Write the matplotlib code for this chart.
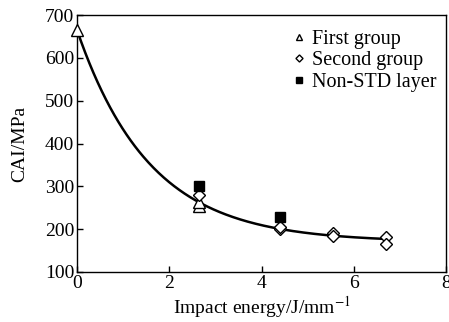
import numpy as np
import matplotlib
matplotlib.use("Agg")
import matplotlib.pyplot as plt

plt.rcParams['font.family'] = ['Liberation Serif', 'DejaVu Serif']
plt.rcParams['mathtext.fontset'] = 'stix'

# Measured CAI values
first_x = [0.0, 2.65, 2.65]
first_y = [665, 254, 263]

second_x = [2.65, 4.4, 4.4, 5.55, 5.55, 6.7, 6.7]
second_y = [280, 200, 205, 190, 184, 182, 165]

nonstd_x = [2.65, 4.4]
nonstd_y = [300, 228]

# Exponential fit: CAI = a + b * exp(-E / c)
fit_a, fit_b, fit_c = 170.0, 495.0, 1.58
fit_range = (0.0, 6.7)

xticks = [0, 2, 4, 6, 8]
yticks = [100, 200, 300, 400, 500, 600, 700]

fig = plt.figure(figsize=(4.49, 3.22), dpi=100)
ax = fig.add_axes([77 / 449, 50 / 322, 369 / 449, 257 / 322])

xf = np.linspace(fit_range[0], fit_range[1], 300)
ax.plot(xf, fit_a + fit_b * np.exp(-xf / fit_c), color='black', lw=1.8, zorder=2)

ax.plot(first_x, first_y, ls='none', marker='^', ms=8, mfc='white', mec='black',
        mew=1.0, label='First group', zorder=3, clip_on=False)
ax.plot(second_x, second_y, ls='none', marker='D', ms=6, mfc='white', mec='black',
        mew=1.0, label='Second group', zorder=3)
ax.plot(nonstd_x, nonstd_y, ls='none', marker='s', ms=7, mfc='black', mec='black',
        label='Non-STD layer', zorder=4)

ax.set_xlim(0, 8)
ax.set_ylim(100, 700)
ax.set_xticks(xticks)
ax.set_yticks(yticks)
ax.tick_params(direction='in', length=4, width=1, labelsize=14, top=False, right=False,
               pad=2)
for s in ax.spines.values():
    s.set_linewidth(1.0)

ax.set_xlabel('Impact energy/J/mm$^{-1}$', fontsize=14, labelpad=2)
ax.set_ylabel('CAI/MPa', fontsize=14, labelpad=12)

leg = ax.legend(loc='upper right', bbox_to_anchor=(1.0, 0.976), frameon=False,
                fontsize=14.5, markerscale=0.6, handlelength=0.8, handletextpad=0.25,
                labelspacing=0.1, borderaxespad=0.05)

fig.savefig('out.png', dpi=100)
